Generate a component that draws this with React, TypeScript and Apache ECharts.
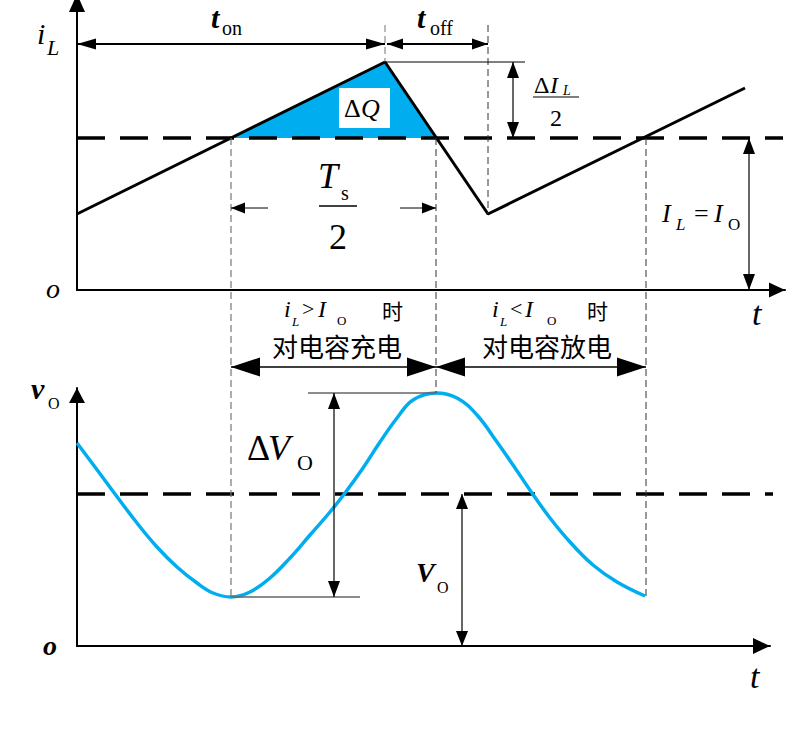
import React, { useEffect, useRef } from 'react';
import * as echarts from 'echarts';

// ---- data (time units along t, level units along i / v) ----
const IL_T = [0, 308, 411, 668];
const IL_V = [76, 228, 76, 202];
const IO_LEVEL = 152;
const CHARGE_T = [154, 308, 359];
const CHARGE_V = [152, 228, 152];
const VO_T = [0, 18, 38, 60, 80, 100, 120, 136, 154, 173, 193, 213, 233, 253, 268, 286, 303, 320, 336, 359, 380, 400, 420, 436, 455, 473, 493, 516, 540, 568];
const VO_V = [203, 179, 152, 123, 99, 79, 63, 53, 49, 54, 68, 88, 111, 134, 153, 178, 204, 228, 246, 253, 248, 231, 204, 181, 153, 128, 104, 81, 64, 50];
const VO_MEAN = 152;
const VO_MAX = 253;
const VO_MIN = 49;
const T_ON_END = 308;
const T_OFF_END = 411;
const CH_START = 154;
const CH_END = 359;
const DIS_END = 569;
const TOP_X_MAX = 708;
const TOP_Y_MAX = 290;
const BOT_X_MAX = 693;
const BOT_Y_MAX = 258;

const SERIF = 'Liberation Serif';
const CJK = 'Noto Sans CJK SC';
const BLUE = '#00AEEF';

type Pt = [number, number];

function head(tip: Pt, from: Pt, len: number, hw: number): any {
  const dx = tip[0] - from[0];
  const dy = tip[1] - from[1];
  const d = Math.hypot(dx, dy) || 1;
  const ux = dx / d, uy = dy / d;
  const bx = tip[0] - ux * len, by = tip[1] - uy * len;
  const nx = -uy, ny = ux;
  return {
    type: 'polygon', silent: true, z: 15,
    shape: { points: [tip, [bx + nx * hw, by + ny * hw], [bx - nx * hw, by - ny * hw]] },
    style: { fill: '#000' },
  };
}
function seg(a: Pt, b: Pt, lw: number, color = '#000', dash?: number[]): any {
  return {
    type: 'line', silent: true, z: 12,
    shape: { x1: a[0], y1: a[1], x2: b[0], y2: b[1] },
    style: { stroke: color, lineWidth: lw, lineDash: dash },
  };
}
function dbl(a: Pt, b: Pt, len: number, hw: number, lw: number): any[] {
  return [seg(a, b, lw), head(a, b, len, hw), head(b, a, len, hw)];
}
function txt(x: number, y: number, text: string, size: number, o: any = {}): any {
  const align = o.align || 'left';
  return {
    type: 'text', silent: true, z: 20, x, y,
    style: {
      text,
      fontFamily: o.family || SERIF,
      fontSize: size,
      fontStyle: o.italic ? 'italic' : 'normal',
      fontWeight: o.bold ? 'bold' : 'normal',
      fill: o.fill || '#000',
      align,
      verticalAlign: 'middle',
    },
  };
}

export default function App() {
  const ref = useRef<HTMLDivElement>(null);
  useEffect(() => {
    document.body.style.margin = '0';
    if (!ref.current) return;
    const chart = echarts.init(ref.current, null, { renderer: 'svg' });
    const axisCommon = {
      type: 'value' as const,
      axisTick: { show: false },
      axisLabel: { show: false },
      splitLine: { show: false },
      axisLine: { show: true, lineStyle: { color: '#000', width: 2 } },
    };
    chart.setOption({
      animation: false,
      backgroundColor: '#fff',
      grid: [
        { left: 77, top: 0, width: TOP_X_MAX, height: TOP_Y_MAX, outerBoundsMode: 'none', containLabel: false },
        { left: 77, top: 388, width: BOT_X_MAX, height: BOT_Y_MAX, outerBoundsMode: 'none', containLabel: false },
      ],
      xAxis: [
        { ...axisCommon, gridIndex: 0, min: 0, max: TOP_X_MAX },
        { ...axisCommon, gridIndex: 1, min: 0, max: BOT_X_MAX },
      ],
      yAxis: [
        { ...axisCommon, gridIndex: 0, min: 0, max: TOP_Y_MAX },
        { ...axisCommon, gridIndex: 1, min: 0, max: BOT_Y_MAX },
      ],
      series: [
        {
          type: 'line', xAxisIndex: 0, yAxisIndex: 0, symbol: 'none', z: 2,
          data: CHARGE_T.map((t, i) => [t, CHARGE_V[i]]),
          lineStyle: { width: 0 },
          areaStyle: { color: BLUE, opacity: 1, origin: IO_LEVEL },
        },
        {
          type: 'line', xAxisIndex: 0, yAxisIndex: 0, symbol: 'none', z: 4,
          data: [[0, IO_LEVEL], [TOP_X_MAX - 2, IO_LEVEL]],
          lineStyle: { color: '#000', width: 3.5, type: [28, 15] },
        },
        {
          type: 'line', xAxisIndex: 0, yAxisIndex: 0, symbol: 'none', z: 5,
          data: IL_T.map((t, i) => [t, IL_V[i]]),
          lineStyle: { color: '#000', width: 3 },
        },
        {
          type: 'line', xAxisIndex: 1, yAxisIndex: 1, symbol: 'none', z: 4,
          data: [[0, VO_MEAN], [TOP_X_MAX - 2, VO_MEAN]],
          lineStyle: { color: '#000', width: 3.5, type: [28, 15] },
        },
        {
          type: 'line', xAxisIndex: 1, yAxisIndex: 1, symbol: 'none', z: 5, smooth: 0.4,
          data: VO_T.map((t, i) => [t, VO_V[i]]),
          lineStyle: { color: BLUE, width: 3.5 },
        },
      ],
    });

    const P = (g: number, x: number, y: number): Pt => chart.convertToPixel({ gridIndex: g }, [x, y]) as Pt;
    const tPeak = P(0, T_ON_END, CHARGE_V[1]);
    const tOrigin = P(0, 0, 0);
    const tTop = P(0, 0, TOP_Y_MAX);
    const tRight = P(0, TOP_X_MAX, 0);
    const bOrigin = P(1, 0, 0);
    const bTop = P(1, 0, BOT_Y_MAX);
    const bRight = P(1, BOT_X_MAX, 0);
    const ioPx = P(0, 0, IO_LEVEL)[1];
    const valley = P(0, T_OFF_END, IL_V[2]);
    const chS = P(0, CH_START, IO_LEVEL);
    const chE = P(0, CH_END, IO_LEVEL);
    const disE = P(0, DIS_END, IO_LEVEL);
    const vMaxY = P(1, CH_END, VO_MAX)[1];
    const vMinY = P(1, CH_START, VO_MIN)[1];
    const vMeanY = P(1, 0, VO_MEAN)[1];
    const yArrow = 44;
    const g: any[] = [];

    // axis arrowheads
    g.push(head([tTop[0], tTop[1] - 6], [tTop[0], tTop[1] + 20], 18, 8));
    g.push(head([tRight[0], tRight[1]], [tRight[0] - 20, tRight[1]], 16, 7.5));
    g.push(head([bTop[0], bTop[1]], [bTop[0], bTop[1] + 20], 15, 8));
    g.push(head([bRight[0], bRight[1]], [bRight[0] - 20, bRight[1]], 17, 8));

    // dashed guide lines
    const dash = [7, 4];
    g.push(seg([tPeak[0], yArrow - 19], [tPeak[0], tPeak[1]], 1, '#777', dash));
    g.push(seg([valley[0], yArrow - 19], [valley[0], valley[1]], 1, '#333', dash));
    g.push(seg([chS[0], chS[1]], [chS[0], vMinY], 1.2, '#777', dash));
    g.push(seg([chE[0], chE[1]], [chE[0], vMaxY], 1, '#333', dash));
    g.push(seg([disE[0], disE[1]], [disE[0], vMinY], 1, '#333', dash));

    // reference horizontals
    g.push(seg([tPeak[0], tPeak[1]], [tPeak[0] + 140, tPeak[1]], 1, '#000'));
    g.push(seg([chE[0] - 128, vMaxY], [chE[0], vMaxY], 1.5, '#666'));
    g.push(seg([chS[0], vMinY], [chS[0] + 129, vMinY], 1.5, '#666'));

    // t_on / t_off
    g.push(...dbl([tOrigin[0], yArrow], [tPeak[0], yArrow], 19, 5.5, 2));
    g.push(...dbl([tPeak[0] + 2, yArrow], [valley[0], yArrow], 16, 5.5, 2));
    // ΔI_L/2
    g.push(...dbl([513, tPeak[1]], [513, ioPx], 16, 6, 1.2));
    // I_L = I_O
    g.push(...dbl([749, ioPx], [749, tOrigin[1]], 16, 6, 1.2));
    // Ts/2 inward arrows
    g.push(seg([268, 208], [chS[0], 208], 1));
    g.push(head([chS[0], 208], [268, 208], 14, 5.5));
    g.push(seg([400, 208], [chE[0], 208], 1));
    g.push(head([chE[0], 208], [400, 208], 14, 5.5));
    // charge / discharge
    g.push(...dbl([chS[0], 367], [chE[0], 367], 29, 9.5, 1.5));
    g.push(...dbl([chE[0], 367], [disE[0], 367], 29, 9.5, 1.5));
    // ΔV_O
    g.push(...dbl([334, vMaxY], [334, vMinY], 16, 6, 1.2));
    // V_O
    g.push(...dbl([462, vMeanY], [462, bOrigin[1]], 15, 6, 1.2));

    // ΔQ box
    g.push({ type: 'rect', silent: true, z: 18, shape: { x: 339, y: 88, width: 51, height: 40 }, style: { fill: '#fff' } });
    g.push(txt(344, 108, 'Δ', 26));
    g.push(txt(361, 108, 'Q', 26, { italic: true }));

    // labels
    g.push(txt(37, 33, 'i', 30, { italic: true }));
    g.push(txt(47, 47, 'L', 22, { italic: true }));
    g.push(txt(211, 17, 't', 30, { italic: true, bold: true }));
    g.push(txt(222, 28, 'on', 20));
    g.push(txt(417, 17, 't', 30, { italic: true, bold: true }));
    g.push(txt(430, 28, 'off', 20));
    // ΔI_L / 2
    g.push(txt(534, 85, 'Δ', 24));
    g.push(txt(550, 85, 'I', 24, { italic: true }));
    g.push(txt(563, 90, 'L', 14, { italic: true }));
    g.push(seg([533, 97], [579, 97], 1.2));
    g.push(txt(556, 118, '2', 24, { align: 'center' }));
    // Ts / 2
    g.push(txt(318, 176, 'T', 36, { italic: true }));
    g.push(txt(341, 193, 's', 20));
    g.push(seg([319, 206], [357, 206], 1.5));
    g.push(txt(338, 237, '2', 36, { align: 'center' }));
    // I_L = I_O
    g.push(txt(662, 213, 'I', 26, { italic: true }));
    g.push(txt(676, 224, 'L', 17, { italic: true }));
    g.push(txt(694, 213, '=', 26));
    g.push(txt(714, 213, 'I', 26, { italic: true }));
    g.push(txt(728, 224, 'O', 17));
    // origins and t
    g.push(txt(46, 288, 'o', 28, { italic: true }));
    g.push(txt(752, 313, 't', 34, { italic: true }));
    g.push(txt(43, 645, 'o', 28, { italic: true, bold: true }));
    g.push(txt(750, 676, 't', 34, { italic: true }));
    // v_O
    g.push(txt(31, 388, 'v', 30, { italic: true, bold: true }));
    g.push(txt(48, 403, 'O', 16));
    // ΔV_O
    g.push(txt(247, 448, 'Δ', 36));
    g.push(txt(268, 448, 'V', 36, { italic: true }));
    g.push(txt(297, 462, 'O', 22));
    // V_O
    g.push(txt(416, 572, 'V', 28, { italic: true, bold: true }));
    g.push(txt(437, 587, 'O', 16));
    // charge text
    g.push(txt(284, 309, 'i', 24, { italic: true }));
    g.push(txt(292, 321, 'L', 13, { italic: true }));
    g.push(txt(302, 308, '>', 22));
    g.push(txt(318, 309, 'I', 24, { italic: true }));
    g.push(txt(337, 320, 'O', 13));
    g.push(txt(382, 310, '时', 21, { family: CJK }));
    g.push(txt(272, 345, '对电容充电', 26, { family: CJK }));
    // discharge text
    g.push(txt(492, 309, 'i', 24, { italic: true }));
    g.push(txt(500, 321, 'L', 13, { italic: true }));
    g.push(txt(510, 308, '<', 22));
    g.push(txt(525, 309, 'I', 24, { italic: true }));
    g.push(txt(547, 320, 'O', 13));
    g.push(txt(587, 310, '时', 21, { family: CJK }));
    g.push(txt(482, 345, '对电容放电', 26, { family: CJK }));

    chart.setOption({ graphic: { elements: g } });
    return () => chart.dispose();
  }, []);
  return <div ref={ref} style={{ width: 792, height: 738 }} />;
}
